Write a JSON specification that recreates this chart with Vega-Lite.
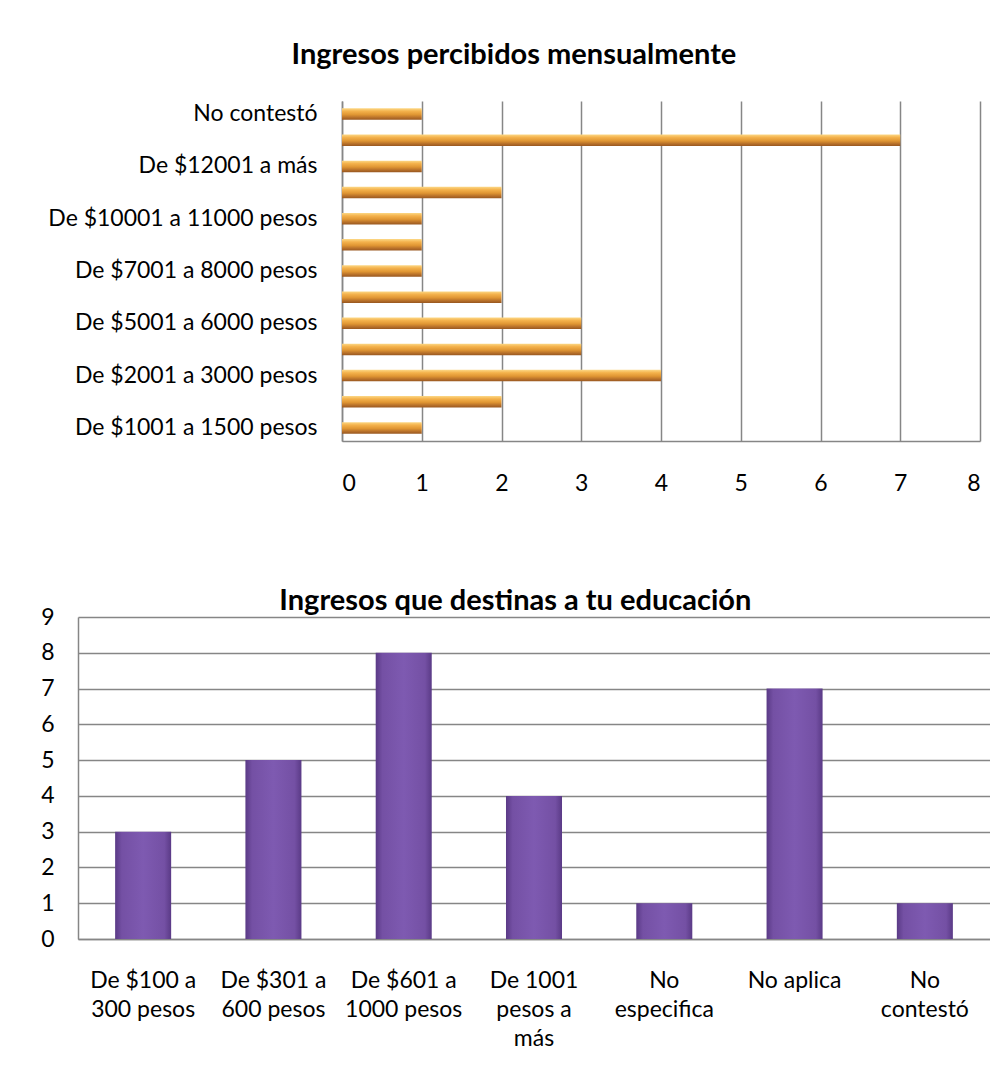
{
  "$schema": "https://vega.github.io/schema/vega-lite/v6.json",
  "background": "white",
  "padding": {"left": 40, "top": 41, "right": 0, "bottom": 0},
  "spacing": 92,
  "config": {
    "font": "Lato",
    "view": {"stroke": null},
    "axis": {
      "labelFont": "Lato",
      "labelFontSize": 23,
      "labelColor": "#000000",
      "domainColor": "#868686",
      "domainWidth": 1.5,
      "gridColor": "#868686",
      "gridWidth": 1.5,
      "ticks": false,
      "title": null,
      "labelLimit": 400,
      "labelOverlap": false
    },
    "title": {"font": "Lato", "fontSize": 29, "fontWeight": "bold", "color": "#000000", "anchor": "middle", "frame": "bounds"}
  },
  "vconcat": [
    {"hconcat": [
    {
      "width": 1,
      "height": 340,
      "data": {"values": []},
      "mark": {"type": "rule"},
      "encoding": {}
    },
    {
      "title": {"text": "Ingresos percibidos mensualmente", "offset": 31},
      "width": 638,
      "height": 340,
      "data": {"values": [
        {"c": "No contestó", "n": 1},
        {"c": "No aplica", "n": 7},
        {"c": "De $12001 a más", "n": 1},
        {"c": "De $11001 a 12000 pesos", "n": 2},
        {"c": "De $10001 a 11000 pesos", "n": 1},
        {"c": "De $8001 a 9000 pesos", "n": 1},
        {"c": "De $7001 a 8000 pesos", "n": 1},
        {"c": "De $6001 a 7000 pesos", "n": 2},
        {"c": "De $5001 a 6000 pesos", "n": 3},
        {"c": "De $3001 a 4000 pesos", "n": 3},
        {"c": "De $2001 a 3000 pesos", "n": 4},
        {"c": "De $1501 a 2000 pesos", "n": 2},
        {"c": "De $1001 a 1500 pesos", "n": 1}
      ]},
      "mark": {
        "type": "bar",
        "color": {
          "gradient": "linear", "x1": 0, "y1": 0, "x2": 0, "y2": 1,
          "stops": [
            {"offset": 0, "color": "#FCD886"},
            {"offset": 0.25, "color": "#F4B24C"},
            {"offset": 0.55, "color": "#E09633"},
            {"offset": 0.8, "color": "#B8712A"},
            {"offset": 1, "color": "#985720"}
          ]
        }
      },
      "encoding": {
        "y": {
          "field": "c", "type": "nominal", "sort": null,
          "scale": {"paddingInner": 0.56, "paddingOuter": 0.28},
          "axis": {
            "values": ["No contestó", "De $12001 a más", "De $10001 a 11000 pesos", "De $7001 a 8000 pesos", "De $5001 a 6000 pesos", "De $2001 a 3000 pesos", "De $1001 a 1500 pesos"],
            "labelPadding": 25, "domain": true, "grid": false
          }
        },
        "x": {
          "field": "n", "type": "quantitative",
          "scale": {"domain": [0, 8]},
          "axis": {"values": [0, 1, 2, 3, 4, 5, 6, 7, 8], "grid": true, "labelPadding": 31, "domain": true}
        }
      }
    }
    ], "spacing": -32},
    {"hconcat": [
    {
      "title": {"text": "Ingresos que destinas a tu educación", "offset": -10},
      "width": 912,
      "height": 322,
      "data": {"values": [
        {"c": "De $100 a 300 pesos", "n": 3},
        {"c": "De $301 a 600 pesos", "n": 5},
        {"c": "De $601 a 1000 pesos", "n": 8},
        {"c": "De 1001 pesos a más", "n": 4},
        {"c": "No especifica", "n": 1},
        {"c": "No aplica", "n": 7},
        {"c": "No contestó", "n": 1}
      ]},
      "mark": {
        "type": "bar",
        "color": {
          "gradient": "linear", "x1": 0, "y1": 0, "x2": 1, "y2": 0,
          "stops": [
            {"offset": 0, "color": "#5A3A86"},
            {"offset": 0.12, "color": "#7450A4"},
            {"offset": 0.5, "color": "#7E5AB1"},
            {"offset": 0.88, "color": "#7450A4"},
            {"offset": 1, "color": "#5A3A86"}
          ]
        }
      },
      "encoding": {
        "x": {
          "field": "c", "type": "nominal", "sort": null,
          "scale": {"paddingInner": 0.57, "paddingOuter": 0.285},
          "axis": {
            "labelAngle": 0, "labelPadding": 30, "labelLineHeight": 29, "domain": true, "grid": false,
            "labelExpr": "datum.value == 'De $100 a 300 pesos' ? ['De $100 a', '300 pesos'] : datum.value == 'De $301 a 600 pesos' ? ['De $301 a', '600 pesos'] : datum.value == 'De $601 a 1000 pesos' ? ['De $601 a', '1000 pesos'] : datum.value == 'De 1001 pesos a más' ? ['De 1001', 'pesos a', 'más'] : datum.value == 'No especifica' ? ['No', 'especifica'] : datum.value == 'No contestó' ? ['No', 'contestó'] : datum.value"
          }
        },
        "y": {
          "field": "n", "type": "quantitative",
          "scale": {"domain": [0, 9]},
          "axis": {"values": [0, 1, 2, 3, 4, 5, 6, 7, 8, 9], "grid": true, "labelPadding": 24, "domain": true}
        }
      }
    }
    ]}
  ]
}
